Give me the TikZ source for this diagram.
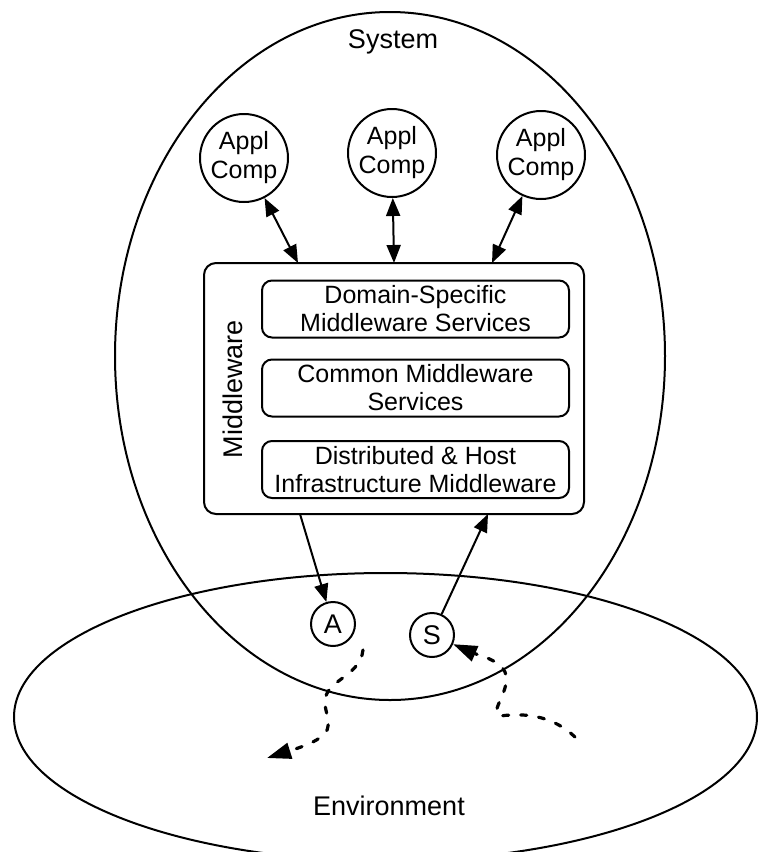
\documentclass[tikz,border=0pt]{standalone}
\usepackage{fontspec}
\setmainfont{Liberation Sans}
\usetikzlibrary{arrows.meta, positioning}
\tikzstyle{txt}=[font=\fontsize{12.5}{14}\selectfont, align=center]
\tikzstyle{bigtxt}=[font=\fontsize{13.5}{15}\selectfont, align=center]
\tikzstyle{comp}=[txt, font=\fontsize{12.5}{14.5}\selectfont, circle, draw, line width=1pt, minimum size=44pt, inner sep=0pt]
\tikzstyle{io}=[bigtxt, circle, draw, line width=1pt, minimum size=22pt, inner sep=0pt]
\tikzstyle{layer}=[txt, draw, line width=1pt, rounded corners=5pt, minimum width=153.5pt, minimum height=28.5pt, inner sep=0pt]
\tikzstyle{frame}=[draw, line width=1pt, rounded corners=6pt, minimum width=190pt, minimum height=125.5pt, inner sep=0pt]
\tikzstyle{arr}=[-{Triangle[length=9pt, width=7pt]}, line width=1pt]
\tikzstyle{dblarr}=[{Triangle[length=9pt, width=7pt]}-{Triangle[length=9pt, width=7pt]}, line width=1pt]
\tikzstyle{wave}=[-{Triangle[length=12pt, width=8pt]}, line width=1.6pt, line cap=round, dash pattern=on 3pt off 6pt]

\begin{document}
\begin{tikzpicture}[x=0.5pt, y=-0.5pt]
    \useasboundingbox (0,0) rectangle (757,852);

    % System and environment
    \draw[line width=1pt] (390,356) ellipse [x radius=275, y radius=344];
    \draw[line width=1pt] (385.5,717) ellipse [x radius=371.5, y radius=144];
    \node[bigtxt] (sys) at (393,42) {System};
    \node[bigtxt] (env) at (389,806) {Environment};

    % Application components
    \node[comp] (app1) at (244,158) {Appl\\Comp};
    \node[comp] (app2) at (392,153) {Appl\\Comp};
    \node[comp] (app3) at (541,155) {Appl\\Comp};

    % Middleware layers
    \node[frame] (mw) at (394,388.5) {};
    \node[bigtxt, rotate=90] (mwlabel) at (233,389) {Middleware};
    \node[layer] (dom) at (415.5,309) {Domain-Specific\\Middleware Services};
    \node[layer] (com) at (415.5,388) {Common Middleware\\Services};
    \node[layer] (inf) at (415.5,469.5) {Distributed \& Host\\Infrastructure Middleware};

    % Actuator and sensor
    \node[io] (act) at (333,624) {A};
    \node[io] (sen) at (432,635) {S};

    % Connectors
    \coordinate (t1) at (298,263);
    \coordinate (t2) at (394,263);
    \coordinate (t3) at (492,263);
    \coordinate (b1) at (300,514);
    \coordinate (b2) at (488,514);
    \draw[dblarr] (app1) -- (t1);
    \draw[dblarr] (app2) -- (t2);
    \draw[dblarr] (app3) -- (t3);
    \draw[arr] (b1) -- (act);
    \draw[arr] (sen) -- (b2);

    % Effects in the environment
    \coordinate (w1) at (363,650);
    \coordinate (w2) at (267,758);
    \coordinate (w3) at (575,737);
    \draw[wave] (w1) .. controls (360,678) and (322,680) .. (325,705)
        .. controls (328,725) and (340,735) .. (w2);
    \draw[wave] (w3) .. controls (555,718) and (530,712) .. (500,716)
        .. controls (488,712) and (512,690) .. (505,672)
        .. controls (500,660) and (478,655) .. (sen);
\end{tikzpicture}
\end{document}
